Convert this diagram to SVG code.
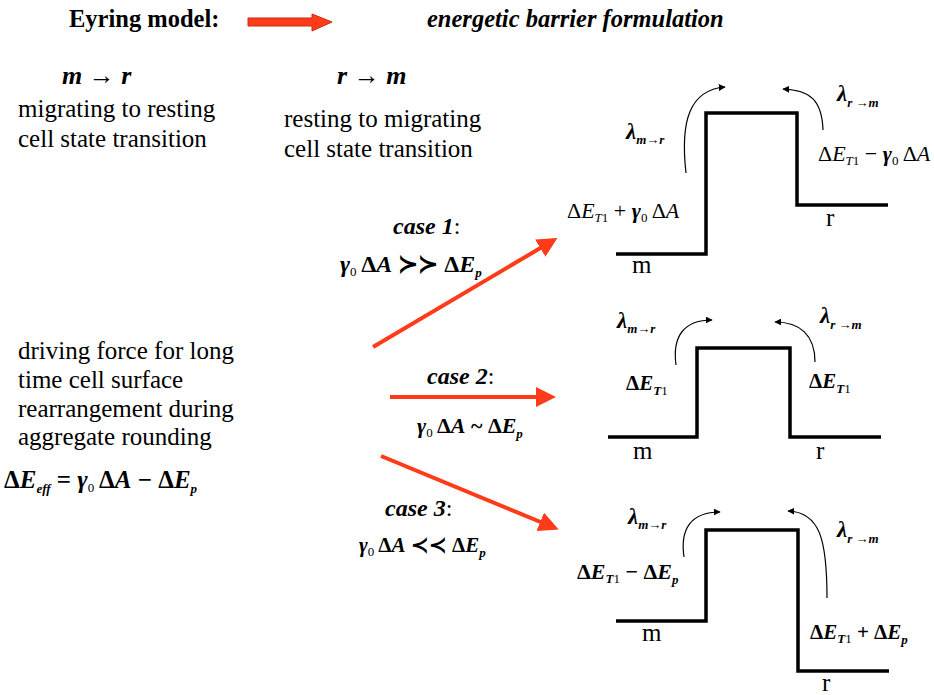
<svg xmlns="http://www.w3.org/2000/svg" width="934" height="695" viewBox="0 0 934 695">
<defs>
<marker id="ah" viewBox="0 0 10 10" refX="9" refY="5" markerWidth="7" markerHeight="7" orient="auto" markerUnits="userSpaceOnUse"><path d="M0,0 L10,5 L0,10 z" fill="#000"/></marker>
<marker id="rh" viewBox="0 0 10 10" refX="8" refY="5" markerWidth="5" markerHeight="5" orient="auto"><path d="M0,0 L10,5 L0,10 z" fill="#ff3b1a"/></marker>
</defs>
<style>
text{font-family:"Liberation Serif","Times New Roman",Times,Tinos,"Noto Serif","DejaVu Serif",serif;fill:#000}
.t{font-size:25px}
.h{font-size:24.5px;font-weight:bold}
.m{font-size:21px;font-weight:bold}
.v{font-style:italic}
.s{font-size:13px}
.n{font-weight:normal}
.barrier{fill:none;stroke:#000;stroke-width:3.5}
.curve{fill:none;stroke:#000;stroke-width:1.2;marker-end:url(#ah)}
.red{stroke:#ff3b1a;stroke-width:4;fill:none;marker-end:url(#rh)}
</style>
<rect width="934" height="695" fill="#fff"/>

<g id="title">
<text x="69" y="27" class="h">Eyring model:</text>
<path d="M248,18 L312,18 L312,14 L332,22 L312,31 L312,26 L248,26 z" fill="#ff3b1a" stroke="#c82a10" stroke-width="1"/>
<text x="427" y="27" class="h" style="font-style:italic">energetic barrier formulation</text>
</g>

<g id="m-to-r">
<text x="62" y="84" class="m" style="font-size:26px"><tspan class="v">m</tspan> → <tspan class="v">r</tspan></text>
<text x="18" y="117" class="t">migrating to resting</text>
<text x="18" y="147" class="t">cell state transition</text>
</g>

<g id="r-to-m">
<text x="337" y="84" class="m" style="font-size:26px"><tspan class="v">r</tspan> → <tspan class="v">m</tspan></text>
<text x="284" y="127" class="t">resting to migrating</text>
<text x="284" y="157" class="t">cell state transition</text>
</g>

<g id="driving-force">
<text x="18" y="359" class="t">driving force for long</text>
<text x="18" y="388" class="t">time cell surface</text>
<text x="18" y="417" class="t">rearrangement during</text>
<text x="18" y="445" class="t">aggregate rounding</text>
<text x="4" y="488" class="m" style="font-size:25px">Δ<tspan class="v">E</tspan><tspan class="s v" dy="5">eff</tspan><tspan dy="-5"> = </tspan><tspan class="v">γ</tspan><tspan class="s n" dy="4">0</tspan><tspan dy="-4"> Δ</tspan><tspan class="v">A</tspan> − Δ<tspan class="v">E</tspan><tspan class="s v" dy="5">p</tspan></text>
</g>

<g id="connectors">
<line x1="373" y1="347" x2="554" y2="240" class="red"/>
<line x1="390" y1="397" x2="552" y2="397" class="red"/>
<line x1="381" y1="456" x2="555" y2="528" class="red"/>
</g>

<g id="case1">
<text x="393" y="234" class="m" style="font-size:24px"><tspan class="v">case 1</tspan><tspan class="n">:</tspan></text>
<text x="340" y="272" class="m" style="font-size:24px"><tspan class="v">γ</tspan><tspan class="s n" dy="4">0</tspan><tspan dy="-4"> Δ</tspan><tspan class="v">A</tspan> ≻≻ Δ<tspan class="v">E</tspan><tspan class="s v" dy="5">p</tspan></text>
</g>

<g id="case2">
<text x="427" y="384" class="m" style="font-size:24px"><tspan class="v">case 2</tspan><tspan class="n">:</tspan></text>
<text x="417" y="433" class="m" style="font-size:22px"><tspan class="v">γ</tspan><tspan class="s n" dy="4">0</tspan><tspan dy="-4"> Δ</tspan><tspan class="v">A</tspan> ~ Δ<tspan class="v">E</tspan><tspan class="s v" dy="5">p</tspan></text>
</g>

<g id="case3">
<text x="385" y="516" class="m" style="font-size:24px"><tspan class="v">case 3</tspan><tspan class="n">:</tspan></text>
<text x="359" y="552" class="m" style="font-size:21px"><tspan class="v">γ</tspan><tspan class="s n" dy="4">0</tspan><tspan dy="-4"> Δ</tspan><tspan class="v">A</tspan> ≺≺ Δ<tspan class="v">E</tspan><tspan class="s v" dy="5">p</tspan></text>
</g>

<g id="barrier1">
<path class="barrier" d="M616,254 H706 V113 H797 V205 H888"/>
<path class="curve" d="M686,173 C680,120 690,90 725,87"/>
<path class="curve" d="M823,130 C822,100 810,90 783,89"/>
<text x="626" y="139" class="m" style="font-size:23px"><tspan class="v">λ</tspan><tspan class="s v" dy="5">m→r</tspan></text>
<text x="837" y="101" class="m" style="font-size:23px"><tspan class="v">λ</tspan><tspan class="s v" dy="6">r →m</tspan></text>
<text x="818" y="161" class="m" style="font-size:22px;font-weight:normal">Δ<tspan class="v">E</tspan><tspan class="s v" dy="4">T</tspan><tspan class="s">1</tspan><tspan dy="-4"> − </tspan><tspan class="v" style="font-weight:bold">γ</tspan><tspan class="s" dy="4">0</tspan><tspan dy="-4"> Δ</tspan><tspan class="v">A</tspan></text>
<text x="567" y="218" class="m" style="font-size:22px;font-weight:normal">Δ<tspan class="v">E</tspan><tspan class="s v" dy="4">T</tspan><tspan class="s">1</tspan><tspan dy="-4"> + </tspan><tspan class="v" style="font-weight:bold">γ</tspan><tspan class="s" dy="4">0</tspan><tspan dy="-4"> Δ</tspan><tspan class="v">A</tspan></text>
<text x="826" y="226" class="t">r</text>
<text x="632" y="273" class="t">m</text>
</g>

<g id="barrier2">
<path class="barrier" d="M608,437 H697 V348 H790 V437 H881"/>
<path class="curve" d="M676,365 C672,335 685,320 712,320"/>
<path class="curve" d="M815,362 C815,335 800,322 775,322"/>
<text x="617" y="328" class="m" style="font-size:23px"><tspan class="v">λ</tspan><tspan class="s v" dy="5">m→r</tspan></text>
<text x="820" y="323" class="m" style="font-size:23px"><tspan class="v">λ</tspan><tspan class="s v" dy="6">r →m</tspan></text>
<text x="626" y="390" class="m">Δ<tspan class="v">E</tspan><tspan class="s v" dy="5">T</tspan><tspan class="s n">1</tspan></text>
<text x="809" y="388" class="m">Δ<tspan class="v">E</tspan><tspan class="s v" dy="5">T</tspan><tspan class="s n">1</tspan></text>
<text x="633" y="459" class="t">m</text>
<text x="816" y="459" class="t">r</text>
</g>

<g id="barrier3">
<path class="barrier" d="M616,621 H706 V530 H798 V671 H889"/>
<path class="curve" d="M684,557 C680,530 690,512 720,512"/>
<path class="curve" d="M827,598 C827,540 820,512 788,511"/>
<text x="628" y="524" class="m" style="font-size:23px"><tspan class="v">λ</tspan><tspan class="s v" dy="5">m→r</tspan></text>
<text x="837" y="537" class="m" style="font-size:23px"><tspan class="v">λ</tspan><tspan class="s v" dy="6">r →m</tspan></text>
<text x="577" y="579" class="m" style="font-size:22px">Δ<tspan class="v">E</tspan><tspan class="s v" dy="4">T</tspan><tspan class="s n">1</tspan><tspan dy="-4"> − Δ</tspan><tspan class="v">E</tspan><tspan class="s v" dy="5">p</tspan></text>
<text x="810" y="639" class="m">Δ<tspan class="v">E</tspan><tspan class="s v" dy="4">T</tspan><tspan class="s n">1</tspan><tspan dy="-4"> + Δ</tspan><tspan class="v">E</tspan><tspan class="s v" dy="5">p</tspan></text>
<text x="642" y="641" class="t">m</text>
<text x="822" y="691" class="t">r</text>
</g>
</svg>
